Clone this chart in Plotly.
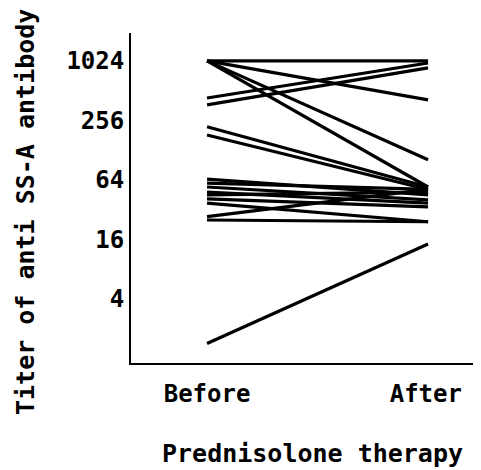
import plotly.graph_objects as go

# Titer of anti SS-A antibody for each patient, before and after prednisolone therapy
before = [1024, 1024, 1024, 1024, 431, 367, 220, 182, 65, 59, 54, 48, 45, 41, 37, 27, 25, 1.4]
after = [1024, 413, 102, 54, 976, 870, 54, 51, 45, 51, 40, 37, 48, 34, 24, 51, 24, 14.3]
categories = ["Before", "After"]
tick_vals = [4, 16, 64, 256, 1024]
tick_text = ["4", "16", "64", "256", "1024"]

FONT = "DejaVu Sans Mono"
FS = 24

fig = go.Figure()
for b, a in zip(before, after):
    fig.add_trace(go.Scatter(
        x=[0, 1], y=[b, a], mode="lines",
        line=dict(color="black", width=3.2),
        showlegend=False, hoverinfo="skip",
    ))

# page body adds an 8px offset; compensate so the plot lands at the right pixels
W, H = 473, 462
L, R, T, B = 123, 1, 25, 107
PW = W - L - R
PH = H - T - B
OX, OY = 8 + L, 8 + T  # page pixel of plot top-left

def px_x(p):
    return (p - OX) / PW

def px_y(p):
    return (OY + PH - p) / PH

fig.update_layout(
    width=W, height=H,
    margin=dict(l=L, r=R, t=T, b=B),
    paper_bgcolor="white", plot_bgcolor="white",
    font=dict(family=FONT, size=FS, color="black"),
    xaxis=dict(
        range=[-0.344, 1.235], showgrid=False, zeroline=False,
        tickmode="array", tickvals=[0, 0.99], ticktext=categories,
        showline=True, linecolor="black", linewidth=2,
        ticks="", tickfont=dict(family=FONT, size=FS, weight="bold"),
        ticklabelstandoff=8,
    ),
    yaxis=dict(
        type="log", range=[-0.051, 3.293], showgrid=False, zeroline=False,
        tickmode="array", tickvals=tick_vals, ticktext=tick_text,
        showline=True, linecolor="black", linewidth=2,
        ticks="", tickfont=dict(family=FONT, size=FS, weight="bold"),
        ticklabelstandoff=0,
    ),
    annotations=[
        dict(text="Prednisolone therapy", xref="paper", yref="paper",
             x=px_x(312), y=px_y(453),
             xanchor="center", yanchor="middle", showarrow=False,
             font=dict(family=FONT, size=FS + 1, weight="bold")),
        dict(text="Titer of anti SS-A antibody", xref="paper", yref="paper",
             x=px_x(25), y=px_y(212), textangle=-90,
             xanchor="center", yanchor="middle", showarrow=False,
             font=dict(family=FONT, size=FS + 1, weight="bold")),
    ],
)

fig.write_html("out.html")
